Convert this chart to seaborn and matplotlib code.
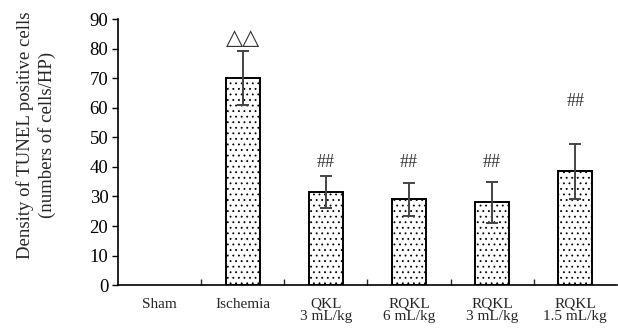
import matplotlib
matplotlib.use("Agg")
import matplotlib.pyplot as plt
import seaborn as sns
import pandas as pd
import numpy as np

categories = ["Sham", "Ischemia", "QKL\n3 mL/kg", "RQKL\n6 mL/kg", "RQKL\n3 mL/kg", "RQKL\n1.5 mL/kg"]
values = [0, 70, 31.5, 29, 28, 38.5]
errors = [0, 9.2, 5.5, 5.5, 7, 9.3]
marks = ["", "△△", "##", "##", "##", "##"]
mark_y = [0, 83, 41.5, 41.5, 41.5, 62]

sns.set_theme(style="white")
plt.rcParams['font.family'] = ['Liberation Serif', 'DejaVu Serif']
plt.rcParams['hatch.color'] = '#555555'
plt.rcParams['hatch.linewidth'] = 0.6

df = pd.DataFrame({"cat": categories, "val": values, "err": errors})

fig = plt.figure(figsize=(6.18, 3.3), dpi=100)
ax = fig.add_axes([0.191, 0.136, 0.807, 0.806])

sns.barplot(data=df, x="cat", y="val", ax=ax, color="white", width=0.41,
            edgecolor="black", linewidth=1.4, hatch="...", errorbar=None)
for p in ax.patches:
    if p.get_height() == 0:
        p.set_visible(False)
xs = np.arange(len(categories))
mask = np.array(values) > 0
ax.errorbar(xs[mask], np.array(values)[mask], yerr=np.array(errors)[mask], fmt="none",
            ecolor="#444444", elinewidth=1.4, capsize=4, capthick=1.4)

for x, m, y in zip(xs, marks, mark_y):
    if m:
        ax.text(x, y, m, ha="center", va="center", fontsize=13 if m == "##" else 16,
                color="#333333", family=['Liberation Serif', 'DejaVu Sans'])

ax.set_ylim(0, 90)
ax.set_xlim(-0.5, 5.5)
ax.set_yticks(range(0, 91, 10))
ax.tick_params(axis="y", direction="out", length=4, width=1, labelsize=13.5, left=True, pad=3, colors="black")
ax.set_xticks(xs)
ax.set_xticklabels(categories, fontsize=11, linespacing=0.95)
ax.tick_params(axis="x", which="major", length=0, pad=9)
ax.set_xticks(np.arange(0.5, 5.5, 1), minor=True)
ax.tick_params(axis="x", which="minor", direction="in", length=4, width=1, bottom=True)
ax.set_xlabel("")
ax.set_ylabel("Density of TUNEL positive cells\n(numbers of cells/HP)", fontsize=13.5, linespacing=1.3)
ax.yaxis.set_label_coords(-0.125, 0.565)

for s in ["top", "right"]:
    ax.spines[s].set_visible(False)
for s in ["left", "bottom"]:
    ax.spines[s].set_color("black")
    ax.spines[s].set_linewidth(1.2)

fig.savefig("out.png", dpi=100)
